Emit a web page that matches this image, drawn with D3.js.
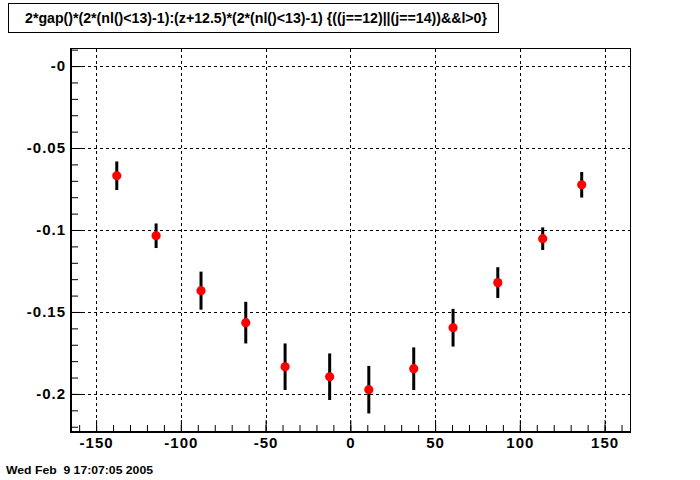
<!DOCTYPE html>
<html>
<head>
<meta charset="utf-8">
<script src="https://cdn.jsdelivr.net/npm/d3@7"></script>
<style>
    body { margin: 0; background: #fff; }
    svg { display: block; }
    text { font-family: "Liberation Sans", Arial, Helvetica, sans-serif; font-weight: bold; }
</style>
</head>
<body>
<script>
"use strict";

// data
const xValues = [-137.8, -114.6, -88.1, -61.7, -38.5, -12.2, 10.9, 37.4, 60.6, 87.0, 113.5, 136.5];
const yValues = [-0.0669, -0.1035, -0.1370, -0.1565, -0.1834, -0.1895, -0.1974, -0.1846, -0.1596, -0.1321, -0.1053, -0.0724];
const yErrors = [0.0087, 0.0075, 0.0116, 0.0127, 0.0142, 0.0142, 0.0145, 0.0130, 0.0115, 0.0094, 0.0069, 0.0078];

const xTicks = [-150, -100, -50, 0, 50, 100, 150];
const xTickLabels = ["-150", "-100", "-50", "0", "50", "100", "150"];
const yTicks = [0, -0.05, -0.1, -0.15, -0.2];
const yTickLabels = ["-0", "-0.05", "-0.1", "-0.15", "-0.2"];

const titleText = "2*gap()*(2*(nl()<13)-1):(z+12.5)*(2*(nl()<13)-1) {((j==12)||(j==14))&&l>0}";
const dateText = "Wed Feb  9 17:07:05 2005";

const measurements = { width: 700, height: 480, left: 70, right: 630, top: 49, bottom: 431 };

const svg = d3.select("body").append("svg")
    .attr("width", measurements.width)
    .attr("height", measurements.height);

const scaleX = d3.scaleLinear()
    .domain([-165.4, 165.0])
    .range([measurements.left, measurements.right]);

const scaleY = d3.scaleLinear()
    .domain([-0.2226, 0.0104])
    .range([measurements.bottom, measurements.top]);

// grid lines (dashed)
const grid = svg.append("g").attr("stroke", "#000").attr("stroke-width", 1).attr("stroke-dasharray", "3,3");
grid.selectAll(".vgrid").data(xTicks).enter().append("line")
    .attr("x1", d => Math.round(scaleX(d)) + 0.5).attr("x2", d => Math.round(scaleX(d)) + 0.5)
    .attr("y1", measurements.top).attr("y2", measurements.bottom);
grid.selectAll(".hgrid").data(yTicks).enter().append("line")
    .attr("y1", d => Math.round(scaleY(d)) + 0.5).attr("y2", d => Math.round(scaleY(d)) + 0.5)
    .attr("x1", measurements.left).attr("x2", measurements.right);

// frame
svg.append("rect")
    .attr("x", measurements.left + 0.5).attr("y", measurements.top - 0.5)
    .attr("width", measurements.right - measurements.left)
    .attr("height", measurements.bottom - measurements.top + 1)
    .attr("fill", "none").attr("stroke", "#000").attr("stroke-width", 1);

// minor ticks via axes, drawn inward
const xMinor = d3.range(-160, 170, 10);
const yMinor = d3.range(-22, 2, 1).map(v => v / 100);

svg.append("g")
    .attr("transform", `translate(0,${measurements.bottom + 1})`)
    .call(d3.axisBottom(scaleX).tickValues(xMinor).tickSize(-7).tickFormat(""))
    .call(g => g.select(".domain").remove());

svg.append("g")
    .attr("transform", `translate(${measurements.left},0)`)
    .call(d3.axisLeft(scaleY).tickValues(yMinor).tickSize(-8).tickFormat(""))
    .call(g => g.select(".domain").remove());

// major ticks with labels
const xAxis = svg.append("g")
    .attr("transform", `translate(0,${measurements.bottom + 1})`)
    .call(d3.axisBottom(scaleX).tickValues(xTicks).tickSize(-12).tickPadding(8)
        .tickFormat((d, i) => xTickLabels[i]));
xAxis.select(".domain").remove();
xAxis.selectAll("text").attr("font-size", 15).attr("fill", "#000")
    .style("letter-spacing", "1px").attr("dy", "0.95em").attr("y", 2);

const yAxis = svg.append("g")
    .attr("transform", `translate(${measurements.left},0)`)
    .call(d3.axisLeft(scaleY).tickValues(yTicks).tickSize(-12).tickPadding(5)
        .tickFormat((d, i) => yTickLabels[i]));
yAxis.select(".domain").remove();
yAxis.selectAll("text").attr("font-size", 15).attr("fill", "#000")
    .style("letter-spacing", "1px").attr("x", -4);

[xAxis, yAxis].forEach(a => a.attr("font-family", null));

// thick axis lines
svg.append("line")
    .attr("x1", measurements.left).attr("x2", measurements.right + 1)
    .attr("y1", measurements.bottom + 1).attr("y2", measurements.bottom + 1)
    .attr("stroke", "#000").attr("stroke-width", 2);
svg.append("line")
    .attr("x1", measurements.left + 1).attr("x2", measurements.left + 1)
    .attr("y1", measurements.top - 1).attr("y2", measurements.bottom + 2)
    .attr("stroke", "#000").attr("stroke-width", 2);

// error bars and markers
const points = xValues.map((x, i) => ({ x: x, y: yValues[i], e: yErrors[i] }));

svg.selectAll(".errbar").data(points).enter().append("line")
    .attr("x1", d => scaleX(d.x)).attr("x2", d => scaleX(d.x))
    .attr("y1", d => scaleY(d.y + d.e)).attr("y2", d => scaleY(d.y - d.e))
    .attr("stroke", "#000").attr("stroke-width", 3);

svg.selectAll(".marker").data(points).enter().append("circle")
    .attr("cx", d => scaleX(d.x)).attr("cy", d => scaleY(d.y))
    .attr("r", 4.6)
    .attr("fill", "#ff0000");

// title box
svg.append("rect")
    .attr("x", 8.5).attr("y", 3.5).attr("width", 490).attr("height", 29)
    .attr("fill", "#fff").attr("stroke", "#000").attr("stroke-width", 1);
svg.append("text")
    .attr("x", 25).attr("y", 23)
    .attr("font-size", 14)
    .attr("textLength", 462).attr("lengthAdjust", "spacingAndGlyphs")
    .text(titleText);

// date stamp
svg.append("text")
    .attr("x", 6).attr("y", 474)
    .attr("font-size", 10.5)
    .attr("textLength", 147).attr("lengthAdjust", "spacingAndGlyphs")
    .style("white-space", "pre")
    .text(dateText);
</script>
</body>
</html>
